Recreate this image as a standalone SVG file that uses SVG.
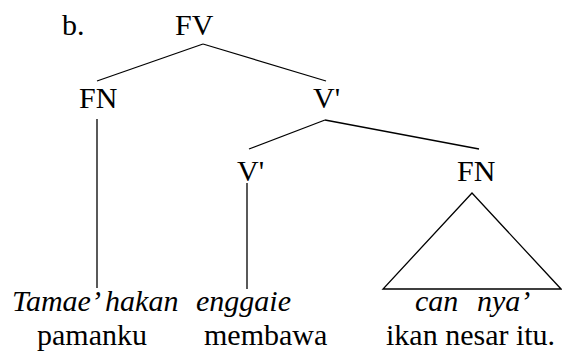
<svg xmlns="http://www.w3.org/2000/svg" width="562" height="356" viewBox="0 0 562 356">
  <style>
    text { font-family: "Liberation Serif", "Times New Roman", serif; font-size: 30px; fill: #000; }
    .it { font-style: italic; }
    .edge { stroke: #000; stroke-width: 1.3; fill: none; }
  </style>
  <rect width="562" height="356" fill="#fff"/>

  <text x="62" y="35">b.</text>

  <!-- tree branches -->
  <g id="connectors">
    <line class="edge" x1="203" y1="44" x2="97" y2="81"/>
    <line class="edge" x1="203" y1="44" x2="326" y2="81"/>
    <line class="edge" x1="325" y1="120" x2="249" y2="149"/>
    <line class="edge" x1="325" y1="120" x2="479" y2="149"/>
    <line class="edge" x1="97" y1="119" x2="97" y2="288"/>
    <line class="edge" x1="247" y1="183" x2="247" y2="289"/>
    <polygon class="edge" points="472,193 383,289 561,289"/>
  </g>

  <g id="fv"><text x="175" y="35">FV</text></g>
  <g id="fn-subject"><text x="79" y="108">FN</text></g>
  <g id="vbar-upper"><text x="313" y="108">V'</text></g>
  <g id="vbar-lower"><text x="237" y="181">V'</text></g>
  <g id="fn-object"><text x="457" y="181">FN</text></g>

  <!-- leaf words and glosses -->
  <g id="leaf-subject">
    <text class="it" x="12" y="311">Tamae’ hakan</text>
    <text x="37" y="345">pamanku</text>
  </g>
  <g id="leaf-verb">
    <text class="it" x="196" y="311">enggaie</text>
    <text x="204" y="345">membawa</text>
  </g>
  <g id="leaf-object">
    <text class="it" x="415" y="311">can</text>
    <text class="it" x="477" y="311">nya’</text>
    <text x="386" y="345">ikan nesar itu.</text>
  </g>
</svg>
